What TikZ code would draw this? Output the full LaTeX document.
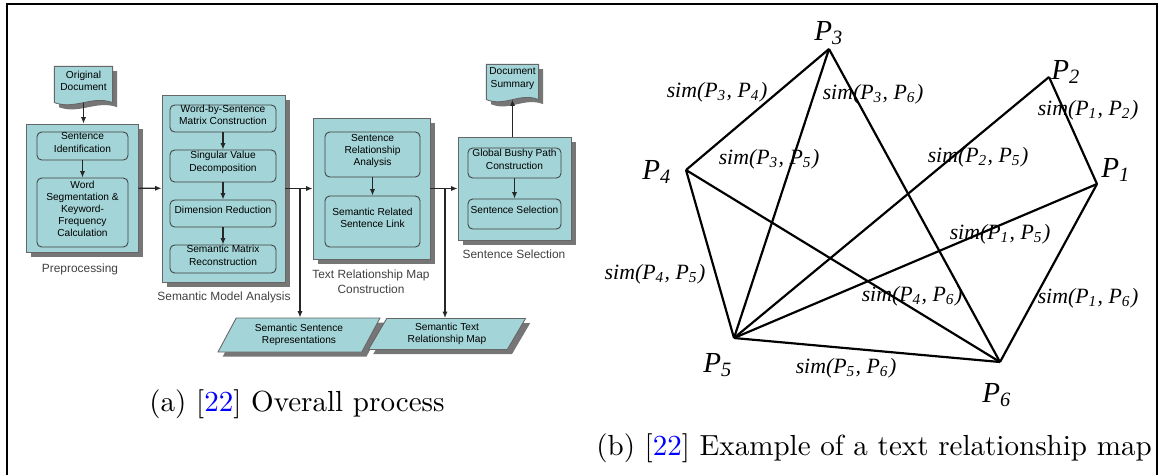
\documentclass[tikz,border=0pt]{standalone}
\usepackage{fontspec}
\newfontfamily\flowfont{Liberation Sans}
\newfontfamily\graphfont{Liberation Serif}
\usetikzlibrary{positioning,fit,calc,shapes.geometric,shadows,backgrounds,arrows.meta}

\definecolor{boxteal}{RGB}{163,212,215}
\definecolor{shadowgray}{RGB}{118,118,118}
\newcommand\px{0.344pt}
\newcommand\simlab[2]{sim(P\textsubscript{#1}, P\textsubscript{#2})}
% document symbol with a wavy bottom, drawn round a named node
\newcommand\docshape[1]{%
  \fill[shadowgray, transform canvas={shift={(1.6pt,-1.6pt)}}] (#1.north west) -- (#1.north east) -- (#1.south east)
    .. controls ($(#1.south east)!0.35!(#1.south west)+(0,2.6pt)$) and ($(#1.south east)!0.65!(#1.south west)+(0,-2.6pt)$) .. (#1.south west) -- cycle;
  \filldraw[fill=boxteal, draw=black!60, line width=0.3pt] (#1.north west) -- (#1.north east) -- (#1.south east)
    .. controls ($(#1.south east)!0.35!(#1.south west)+(0,2.6pt)$) and ($(#1.south east)!0.65!(#1.south west)+(0,-2.6pt)$) .. (#1.south west) -- cycle;}

\begin{document}
\begin{tikzpicture}[x=\px, y=-\px,
    panel/.style = { draw = black!60, line width = 0.3pt, fill = boxteal, inner sep = 0pt,
      drop shadow={shadow xshift=1.6pt,shadow yshift=-1.6pt,fill=shadowgray,opacity=1} },
    inbox/.style = { draw = black!75, line width = 0.3pt, fill = boxteal, rounded corners = 1.6pt, inner sep = 0pt,
      align = center, font = \flowfont\fontsize{3.5}{4.2}\selectfont },
    doctext/.style = { inner sep = 0pt, align = center, font = \flowfont\fontsize{3.5}{4.2}\selectfont },
    datapar/.style = { trapezium, trapezium left angle = 50, trapezium right angle = 130, trapezium stretches body,
      draw = black!60, line width = 0.3pt, fill = boxteal, inner sep = 0pt, align = center,
      font = \flowfont\fontsize{3.5}{4.2}\selectfont,
      drop shadow={shadow xshift=1.6pt,shadow yshift=-1.6pt,fill=shadowgray,opacity=1} },
    plabel/.style = { align = center, text = black!75, font = \flowfont\fontsize{4.1}{5.2}\selectfont },
    arr/.style = { -{Latex[length = 2.2pt, width = 1.8pt]}, line width = 0.45pt, draw = black!85 },
    link/.style = { line width = 0.75pt },
    vlabel/.style = { inner sep = 0pt, font = \graphfont\itshape\fontsize{10}{12}\selectfont },
    slabel/.style = { inner sep = 0.5pt, font = \graphfont\itshape\fontsize{7.5}{9}\selectfont },
    caption/.style = { inner sep = 0pt, font = \fontsize{10}{12}\selectfont }]

  \useasboundingbox (0,0) rectangle (1159,475);
  \draw[line width = 0.5pt] (7,475) -- (7,4) -- (1157,4) -- (1157,475);

  % (a) overall process
  \node[doctext, fit = {(55,67) (112,102)}] (odoc) {Original\\Document};
  \node[panel, fit = {(26,124) (138,252)}] (pre) {};
  \node[inbox, fit = {(37,132) (128,160)}] (sid) {Sentence\\Identification};
  \node[inbox, fit = {(37,178) (128,247)}] (wsk) {Word\\Segmentation \&\\Keyword-\\Frequency\\Calculation};
  \node[plabel] (lpre) at (80,269) {Preprocessing};

  \node[panel, fit = {(162,95) (285,282)}] (sma) {};
  \node[inbox, fit = {(170,105) (276,132)}] (wbs) {Word-by-Sentence\\Matrix Construction};
  \node[inbox, fit = {(170,150) (276,182)}] (svd) {Singular Value\\Decomposition};
  \node[inbox, fit = {(170,200) (276,227)}] (dr) {Dimension Reduction};
  \node[inbox, fit = {(170,245) (276,273)}] (smr) {Semantic Matrix\\Reconstruction};
  \node[plabel] (lsma) at (224,297) {Semantic Model Analysis};

  \node[panel, fit = {(313,118) (430,259)}] (trm) {};
  \node[inbox, fit = {(325,132) (420,177)}] (sra) {Sentence\\Relationship\\Analysis};
  \node[inbox, fit = {(325,196) (420,247)}] (srl) {Semantic Related\\Sentence Link};
  \node[plabel] (ltrm) at (371,282) {Text Relationship Map\\Construction};

  \node[panel, fit = {(458,137) (571,240)}] (ss) {};
  \node[inbox, fit = {(468,148) (561,178)}] (gbp) {Global Bushy Path\\Construction};
  \node[inbox, fit = {(468,199) (561,229)}] (sel) {Sentence Selection};
  \node[plabel] (lss) at (514,254) {Sentence Selection};
  \node[doctext, fit = {(487,65) (538,99)}] (dsum) {Document\\Summary};

  \node[datapar, minimum width = 162*\px, minimum height = 34*\px] (ssr) at (299,335) {Semantic Sentence\\Representations};
  \node[datapar, minimum width = 157*\px, minimum height = 31*\px] (strm) at (447,334) {Semantic Text\\Relationship Map};

  \begin{scope}[on background layer]
    \docshape{odoc}
    \docshape{dsum}
  \end{scope}

  \coordinate (br1) at (300,188);
  \coordinate (br2) at (445,188);
  \draw[arr] (odoc.south) -- (pre.north -| odoc.south);
  \draw[arr] (sid) -- (wsk);
  \draw[arr] (pre) -- (sma);
  \draw[arr] (wbs) -- (svd);
  \draw[arr] (svd) -- (dr);
  \draw[arr] (dr) -- (smr);
  \draw[arr] (sma) -- (trm);
  \draw[arr] (br1) -- (br1 |- ssr.north);
  \draw[arr] (sra) -- (srl);
  \draw[arr] (trm) -- (ss);
  \draw[arr] (br2) -- (br2 |- strm.north);
  \draw[arr] (gbp) -- (sel);
  \draw[arr] (dsum.south |- ss.north) -- (dsum.south);

  \node[caption] (capa) at (297,404) {(a) [\textcolor{blue}{22}] Overall process};

  % (b) text relationship map
  \coordinate (p1) at (1097,184);
  \coordinate (p2) at (1049,77);
  \coordinate (p3) at (829,49);
  \coordinate (p4) at (686,170);
  \coordinate (p5) at (734,338);
  \coordinate (p6) at (1000,362);

  \draw[link] (p3) -- (p4);
  \draw[link] (p3) -- (p5);
  \draw[link] (p3) -- (p6);
  \draw[link] (p2) -- (p1);
  \draw[link] (p2) -- (p5);
  \draw[link] (p1) -- (p5);
  \draw[link] (p1) -- (p6);
  \draw[link] (p4) -- (p5);
  \draw[link] (p4) -- (p6);
  \draw[link] (p5) -- (p6);

  \node[vlabel] (l1) at (1116,170) {P\textsubscript{1}};
  \node[vlabel] (l2) at (1066,72) {P\textsubscript{2}};
  \node[vlabel] (l3) at (829,33) {P\textsubscript{3}};
  \node[vlabel] (l4) at (657,172) {P\textsubscript{4}};
  \node[vlabel] (l5) at (718,365) {P\textsubscript{5}};
  \node[vlabel] (l6) at (997,395) {P\textsubscript{6}};

  \node[slabel] (s34) at (717,92) {\simlab{3}{4}};
  \node[slabel] (s36) at (873,94) {\simlab{3}{6}};
  \node[slabel] (s12) at (1088,110) {\simlab{1}{2}};
  \node[slabel] (s35) at (769,159) {\simlab{3}{5}};
  \node[slabel] (s25) at (978,157) {\simlab{2}{5}};
  \node[slabel] (s15) at (1000,234) {\simlab{1}{5}};
  \node[slabel] (s45) at (655,274) {\simlab{4}{5}};
  \node[slabel] (s46) at (912,296) {\simlab{4}{6}};
  \node[slabel] (s16) at (1088,298) {\simlab{1}{6}};
  \node[slabel] (s56) at (846,368) {\simlab{5}{6}};

  \node[caption] (capb) at (874,448) {(b) [\textcolor{blue}{22}] Example of a text relationship map};
\end{tikzpicture}
\end{document}
